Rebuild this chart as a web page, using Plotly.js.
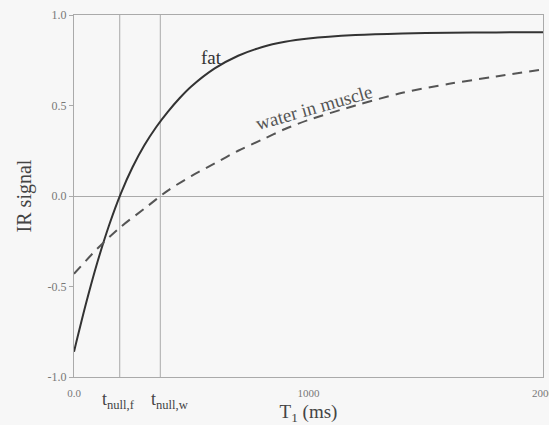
<!DOCTYPE html>
<html>
<head>
<meta charset="utf-8">
<script src="https://cdn.plot.ly/plotly-3.0.1.min.js"></script>
<style>html,body{margin:0;padding:0;background:#f7f7f7;}#chart{width:549px;height:425px;}</style>
</head>
<body>
<div id="chart"></div>
<script>
// Inversion time (ms) and IR signal
const fatT = [0, 50, 100, 150, 200, 250, 300, 350, 400, 450, 500, 600, 700, 800, 900, 1000, 1200, 1400, 1600, 1800, 2000];
const fatSignal = [-0.86, -0.6, -0.365, -0.16, 0.015, 0.16, 0.28, 0.38, 0.465, 0.54, 0.605, 0.705, 0.775, 0.822, 0.852, 0.87, 0.889, 0.898, 0.902, 0.904, 0.905];
const waterT = [0, 100, 200, 300, 400, 500, 600, 700, 800, 900, 1000, 1200, 1400, 1600, 1800, 2000];
const waterSignal = [-0.43, -0.29, -0.17, -0.07, 0.03, 0.11, 0.18, 0.25, 0.31, 0.37, 0.42, 0.50, 0.57, 0.62, 0.66, 0.70];

const seriesNames = ['fat', 'water in muscle'];
const nullTimes = [195, 368];
const nullLabels = ['t<sub>null,f</sub>', 't<sub>null,w</sub>'];

const xTickVals = [0, 1000, 2000];
const xTickText = ['0.0', '1000', '2000'];
const yTickVals = [-1, -0.5, 0, 0.5, 1];
const yTickText = ['-1.0', '-0.5', '0.0', '0.5', '1.0'];

const serif = 'Liberation Serif, Times New Roman, serif';

const traces = [
  {x: fatT, y: fatSignal, type: 'scatter', mode: 'lines', name: seriesNames[0],
   line: {color: '#333333', width: 2, shape: 'spline', smoothing: 0.8}},
  {x: waterT, y: waterSignal, type: 'scatter', mode: 'lines', name: seriesNames[1],
   line: {color: '#555555', width: 2, dash: '10px,7px', shape: 'spline', smoothing: 0.8}}
];

const shapes = nullTimes.map(t => ({
  type: 'line', xref: 'x', yref: 'paper', x0: t, x1: t, y0: 0, y1: 1,
  line: {color: '#aaaaaa', width: 1}, layer: 'below'
}));

const nullShift = [-20, -11];
const annotations = nullTimes.map((t, i) => ({
  x: t, y: 0, xref: 'x', yref: 'paper', text: nullLabels[i], showarrow: false,
  xanchor: 'left', yanchor: 'top', xshift: nullShift[i], yshift: -10,
  font: {family: serif, size: 18, color: '#444444'}
}));
annotations.push({
  x: 588, y: 0.765, xref: 'x', yref: 'y', text: seriesNames[0], showarrow: false,
  font: {family: serif, size: 19, color: '#333333'}
});
annotations.push({
  x: 1023, y: 0.472, xref: 'x', yref: 'y', text: seriesNames[1], showarrow: false,
  textangle: -16, yshift: 3, font: {family: serif, size: 19, color: '#555555'}
});

const layout = {
  width: 549, height: 425, autosize: false,
  margin: {l: 74, r: 6, t: 15, b: 48},
  paper_bgcolor: '#f7f7f7', plot_bgcolor: '#f7f7f7',
  showlegend: false,
  xaxis: {
    range: [0, 2000], tickvals: xTickVals, ticktext: xTickText,
    showgrid: false, zeroline: false, showline: true, mirror: true,
    linecolor: '#aaaaaa', linewidth: 1, ticks: '', ticklabeloverflow: 'allow',
    ticklabelstandoff: 6,
    tickfont: {family: serif, size: 11, color: '#777777'},
    title: {text: 'T<sub>1</sub> (ms)', font: {family: serif, size: 19, color: '#444444'}, standoff: 6}
  },
  yaxis: {
    range: [-1, 1], tickvals: yTickVals, ticktext: yTickText,
    showgrid: false, zeroline: true, zerolinecolor: '#aaaaaa', zerolinewidth: 1,
    showline: true, mirror: true, linecolor: '#aaaaaa', linewidth: 1,
    ticks: 'outside', ticklen: 4, tickcolor: '#aaaaaa',
    tickfont: {family: serif, size: 12, color: '#777777'},
    title: {text: 'IR signal', font: {family: serif, size: 20, color: '#444444'}, standoff: 10}
  },
  shapes: shapes,
  annotations: annotations
};

Plotly.newPlot('chart', traces, layout, {displayModeBar: false, staticPlot: true});
</script>
</body>
</html>
